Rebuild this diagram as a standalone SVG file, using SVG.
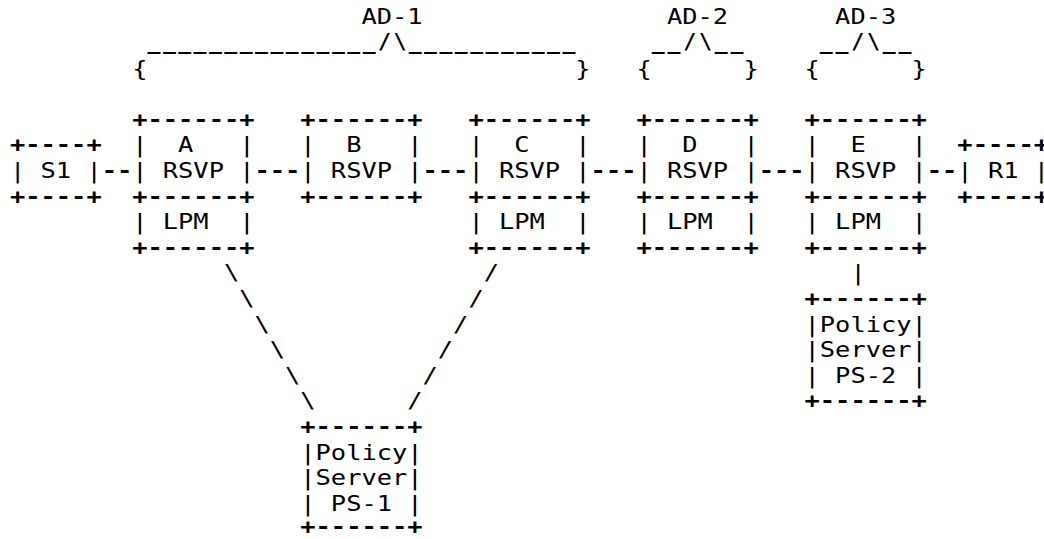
<svg xmlns="http://www.w3.org/2000/svg" width="1044" height="539" viewBox="0 0 1044 539" xml:space="preserve">
<style>
text { font-family: "DejaVu Sans Mono", "Liberation Mono", monospace; font-size: 21.5px; fill: #000; white-space: pre; }
text.b { font-weight: bold; }
</style>
<rect x="0" y="0" width="1044" height="539" fill="#fff"/>
<g id="ad-1">
<text x="361.44" y="24.3" textLength="61.12" lengthAdjust="spacingAndGlyphs">AD-1</text>
<text class="b" x="147.52" y="48.5" textLength="427.84" lengthAdjust="spacing">_______________/\___________</text>
<text x="132.24" y="75.5" textLength="15.28" lengthAdjust="spacingAndGlyphs">{</text>
<text x="575.36" y="75.5" textLength="15.28" lengthAdjust="spacingAndGlyphs">}</text>
</g>
<g id="ad-2">
<text x="667.04" y="24.3" textLength="61.12" lengthAdjust="spacingAndGlyphs">AD-2</text>
<text class="b" x="651.76" y="48.5" textLength="91.68" lengthAdjust="spacing">__/\__</text>
<text x="636.48" y="75.5" textLength="15.28" lengthAdjust="spacingAndGlyphs">{</text>
<text x="743.44" y="75.5" textLength="15.28" lengthAdjust="spacingAndGlyphs">}</text>
</g>
<g id="ad-3">
<text x="835.12" y="24.3" textLength="61.12" lengthAdjust="spacingAndGlyphs">AD-3</text>
<text class="b" x="819.84" y="48.5" textLength="91.68" lengthAdjust="spacing">__/\__</text>
<text x="804.56" y="75.5" textLength="15.28" lengthAdjust="spacingAndGlyphs">{</text>
<text x="911.52" y="75.5" textLength="15.28" lengthAdjust="spacingAndGlyphs">}</text>
</g>
<g id="node-s1">
<text class="b" x="10" y="152.3" textLength="91.68" lengthAdjust="spacingAndGlyphs">+----+</text>
<text x="10" y="177.9" textLength="91.68" lengthAdjust="spacingAndGlyphs">| S1 |</text>
<text class="b" x="10" y="203.5" textLength="91.68" lengthAdjust="spacingAndGlyphs">+----+</text>
</g>
<g id="node-a">
<text class="b" x="132.24" y="126.7" textLength="122.24" lengthAdjust="spacingAndGlyphs">+------+</text>
<text x="132.24" y="152.3" textLength="122.24" lengthAdjust="spacingAndGlyphs">|  A   |</text>
<text x="132.24" y="177.9" textLength="122.24" lengthAdjust="spacingAndGlyphs">| RSVP |</text>
<text class="b" x="132.24" y="203.5" textLength="122.24" lengthAdjust="spacingAndGlyphs">+------+</text>
<text x="132.24" y="229.1" textLength="122.24" lengthAdjust="spacingAndGlyphs">| LPM  |</text>
<text class="b" x="132.24" y="254.7" textLength="122.24" lengthAdjust="spacingAndGlyphs">+------+</text>
</g>
<g id="node-b">
<text class="b" x="300.32" y="126.7" textLength="122.24" lengthAdjust="spacingAndGlyphs">+------+</text>
<text x="300.32" y="152.3" textLength="122.24" lengthAdjust="spacingAndGlyphs">|  B   |</text>
<text x="300.32" y="177.9" textLength="122.24" lengthAdjust="spacingAndGlyphs">| RSVP |</text>
<text class="b" x="300.32" y="203.5" textLength="122.24" lengthAdjust="spacingAndGlyphs">+------+</text>
</g>
<g id="node-c">
<text class="b" x="468.4" y="126.7" textLength="122.24" lengthAdjust="spacingAndGlyphs">+------+</text>
<text x="468.4" y="152.3" textLength="122.24" lengthAdjust="spacingAndGlyphs">|  C   |</text>
<text x="468.4" y="177.9" textLength="122.24" lengthAdjust="spacingAndGlyphs">| RSVP |</text>
<text class="b" x="468.4" y="203.5" textLength="122.24" lengthAdjust="spacingAndGlyphs">+------+</text>
<text x="468.4" y="229.1" textLength="122.24" lengthAdjust="spacingAndGlyphs">| LPM  |</text>
<text class="b" x="468.4" y="254.7" textLength="122.24" lengthAdjust="spacingAndGlyphs">+------+</text>
</g>
<g id="node-d">
<text class="b" x="636.48" y="126.7" textLength="122.24" lengthAdjust="spacingAndGlyphs">+------+</text>
<text x="636.48" y="152.3" textLength="122.24" lengthAdjust="spacingAndGlyphs">|  D   |</text>
<text x="636.48" y="177.9" textLength="122.24" lengthAdjust="spacingAndGlyphs">| RSVP |</text>
<text class="b" x="636.48" y="203.5" textLength="122.24" lengthAdjust="spacingAndGlyphs">+------+</text>
<text x="636.48" y="229.1" textLength="122.24" lengthAdjust="spacingAndGlyphs">| LPM  |</text>
<text class="b" x="636.48" y="254.7" textLength="122.24" lengthAdjust="spacingAndGlyphs">+------+</text>
</g>
<g id="node-e">
<text class="b" x="804.56" y="126.7" textLength="122.24" lengthAdjust="spacingAndGlyphs">+------+</text>
<text x="804.56" y="152.3" textLength="122.24" lengthAdjust="spacingAndGlyphs">|  E   |</text>
<text x="804.56" y="177.9" textLength="122.24" lengthAdjust="spacingAndGlyphs">| RSVP |</text>
<text class="b" x="804.56" y="203.5" textLength="122.24" lengthAdjust="spacingAndGlyphs">+------+</text>
<text x="804.56" y="229.1" textLength="122.24" lengthAdjust="spacingAndGlyphs">| LPM  |</text>
<text class="b" x="804.56" y="254.7" textLength="122.24" lengthAdjust="spacingAndGlyphs">+------+</text>
</g>
<g id="node-r1">
<text class="b" x="957.36" y="152.3" textLength="91.68" lengthAdjust="spacingAndGlyphs">+----+</text>
<text x="957.36" y="177.9" textLength="91.68" lengthAdjust="spacingAndGlyphs">| R1 |</text>
<text class="b" x="957.36" y="203.5" textLength="91.68" lengthAdjust="spacingAndGlyphs">+----+</text>
</g>
<g id="node-ps-2">
<text class="b" x="804.56" y="305.9" textLength="122.24" lengthAdjust="spacingAndGlyphs">+------+</text>
<text x="804.56" y="331.5" textLength="122.24" lengthAdjust="spacingAndGlyphs">|Policy|</text>
<text x="804.56" y="357.1" textLength="122.24" lengthAdjust="spacingAndGlyphs">|Server|</text>
<text x="804.56" y="382.7" textLength="122.24" lengthAdjust="spacingAndGlyphs">| PS-2 |</text>
<text class="b" x="804.56" y="408.3" textLength="122.24" lengthAdjust="spacingAndGlyphs">+------+</text>
</g>
<g id="node-ps-1">
<text class="b" x="300.32" y="433.9" textLength="122.24" lengthAdjust="spacingAndGlyphs">+------+</text>
<text x="300.32" y="459.5" textLength="122.24" lengthAdjust="spacingAndGlyphs">|Policy|</text>
<text x="300.32" y="485.1" textLength="122.24" lengthAdjust="spacingAndGlyphs">|Server|</text>
<text x="300.32" y="510.7" textLength="122.24" lengthAdjust="spacingAndGlyphs">| PS-1 |</text>
<text class="b" x="300.32" y="533.8" textLength="122.24" lengthAdjust="spacingAndGlyphs">+------+</text>
</g>
<g id="connectors">
<text class="b" x="101.68" y="177.9" textLength="30.56" lengthAdjust="spacingAndGlyphs">--</text>
<text class="b" x="254.48" y="177.9" textLength="45.84" lengthAdjust="spacingAndGlyphs">---</text>
<text class="b" x="422.56" y="177.9" textLength="45.84" lengthAdjust="spacingAndGlyphs">---</text>
<text class="b" x="590.64" y="177.9" textLength="45.84" lengthAdjust="spacingAndGlyphs">---</text>
<text class="b" x="758.72" y="177.9" textLength="45.84" lengthAdjust="spacingAndGlyphs">---</text>
<text class="b" x="926.8" y="177.9" textLength="30.56" lengthAdjust="spacingAndGlyphs">--</text>
<text x="223.92" y="280.3" textLength="15.28" lengthAdjust="spacingAndGlyphs">\</text>
<text x="239.2" y="305.9" textLength="15.28" lengthAdjust="spacingAndGlyphs">\</text>
<text x="254.48" y="331.5" textLength="15.28" lengthAdjust="spacingAndGlyphs">\</text>
<text x="269.76" y="357.1" textLength="15.28" lengthAdjust="spacingAndGlyphs">\</text>
<text x="285.04" y="382.7" textLength="15.28" lengthAdjust="spacingAndGlyphs">\</text>
<text x="300.32" y="408.3" textLength="15.28" lengthAdjust="spacingAndGlyphs">\</text>
<text x="483.68" y="280.3" textLength="15.28" lengthAdjust="spacingAndGlyphs">/</text>
<text x="468.4" y="305.9" textLength="15.28" lengthAdjust="spacingAndGlyphs">/</text>
<text x="453.12" y="331.5" textLength="15.28" lengthAdjust="spacingAndGlyphs">/</text>
<text x="437.84" y="357.1" textLength="15.28" lengthAdjust="spacingAndGlyphs">/</text>
<text x="422.56" y="382.7" textLength="15.28" lengthAdjust="spacingAndGlyphs">/</text>
<text x="407.28" y="408.3" textLength="15.28" lengthAdjust="spacingAndGlyphs">/</text>
<text x="850.4" y="280.3" textLength="15.28" lengthAdjust="spacingAndGlyphs">|</text>
</g>
</svg>
